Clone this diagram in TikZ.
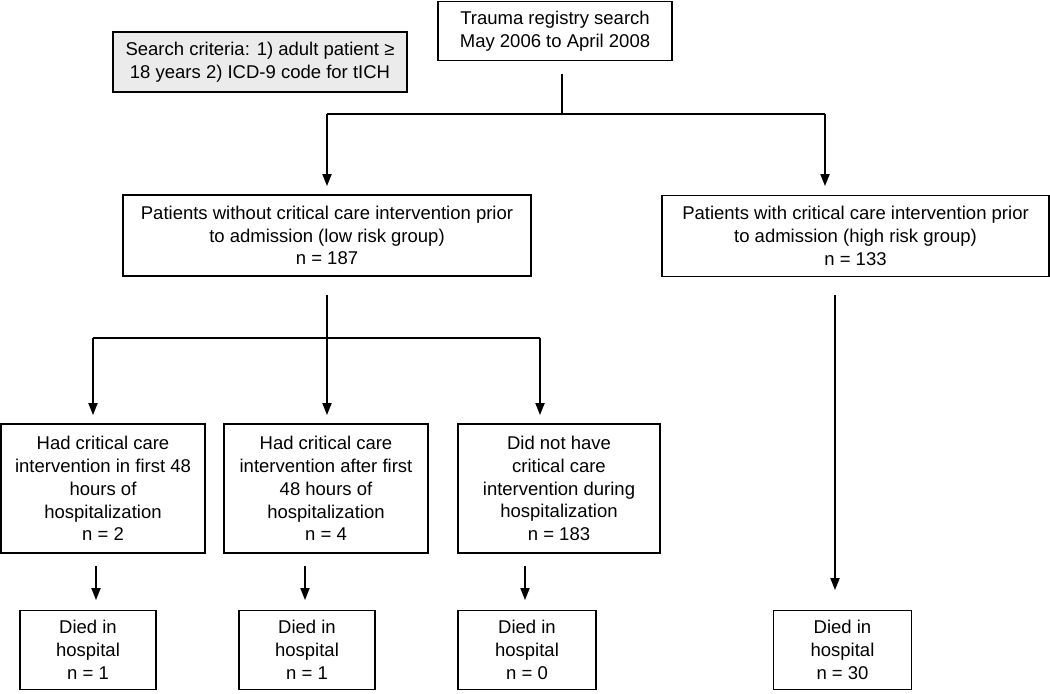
\documentclass[tikz,border=0pt]{standalone}
\usepackage{fontspec}
\setmainfont{Liberation Sans}
\usetikzlibrary{arrows.meta}
\definecolor{greybox}{RGB}{235,235,235}
\begin{document}
\begin{tikzpicture}[x=0.5pt,y=-0.5pt,
  box/.style={draw=black, line width=0.7pt, align=center, inner sep=0pt,
    font=\fontsize{9.25}{11.4}\selectfont, text=black},
  conn/.style={line width=0.7pt},
  arr/.style={line width=0.7pt, -{Triangle[length=6pt,width=4.6pt]}}]
\useasboundingbox (0,0) rectangle (1050,693);
% boxes
\node[box, minimum width=117pt, minimum height=29.5pt] (top) at (555,31)
  {Trauma registry search\\May 2006 to April 2008};
\node[box, fill=greybox, minimum width=147pt, minimum height=30pt] (crit) at (260,62)
  {Search criteria: 1) adult patient ≥\\18 years 2) ICD-9 code for tICH};
\node[box, minimum width=204pt, minimum height=40.5pt] (low) at (327,235.5)
  {Patients without critical care intervention prior\\to admission (low risk group)\\n = 187};
\node[box, minimum width=193.5pt, minimum height=40.5pt] (high) at (855.5,236)
  {Patients with critical care intervention prior\\to admission (high risk group)\\n = 133};
\node[box, minimum width=102pt, minimum height=64.5pt] (b1) at (103,488.5)
  {Had critical care\\intervention in first 48\\hours of\\hospitalization\\n = 2};
\node[box, minimum width=102pt, minimum height=64.5pt] (b2) at (326,488.5)
  {Had critical care\\intervention after first\\48 hours of\\hospitalization\\n = 4};
\node[box, minimum width=101pt, minimum height=64.5pt] (b3) at (559,488.5)
  {Did not have\\critical care\\intervention during\\hospitalization\\n = 183};
\node[box, minimum width=68pt, minimum height=39.5pt] (d1) at (88,650)
  {Died in\\hospital\\n = 1};
\node[box, minimum width=68pt, minimum height=39.5pt] (d2) at (307,650)
  {Died in\\hospital\\n = 1};
\node[box, minimum width=69pt, minimum height=39.5pt] (d3) at (527,650)
  {Died in\\hospital\\n = 0};
\node[box, minimum width=69pt, minimum height=39.5pt] (d4) at (842.5,650)
  {Died in\\hospital\\n = 30};
% junction coordinates
\coordinate (t0) at (562,74);
\coordinate (t1) at (562,114);
\coordinate (tl) at (327,114);
\coordinate (tr) at (825,114);
\coordinate (tle) at (327,186);
\coordinate (tre) at (825,186);
\coordinate (l0) at (327,295);
\coordinate (l1) at (327,338);
\coordinate (la) at (93,338);
\coordinate (lc) at (540,338);
\coordinate (lae) at (93,415);
\coordinate (lbe) at (327,415);
\coordinate (lce) at (540,415);
\coordinate (h0) at (835,295);
\coordinate (h1) at (835,590);
\coordinate (s1) at (96,566);
\coordinate (s1e) at (96,600);
\coordinate (s2) at (305,566);
\coordinate (s2e) at (305,600);
\coordinate (s3) at (525,566);
\coordinate (s3e) at (525,600);
% connectors
\draw[conn] (t0) -- (t1);
\draw[conn] (tl) -- (tr);
\draw[arr] (tl) -- (tle);
\draw[arr] (tr) -- (tre);
\draw[conn] (l0) -- (l1);
\draw[conn] (la) -- (lc);
\draw[arr] (la) -- (lae);
\draw[arr] (l1) -- (lbe);
\draw[arr] (lc) -- (lce);
\draw[arr] (h0) -- (h1);
\draw[arr] (s1) -- (s1e);
\draw[arr] (s2) -- (s2e);
\draw[arr] (s3) -- (s3e);
\end{tikzpicture}
\end{document}
